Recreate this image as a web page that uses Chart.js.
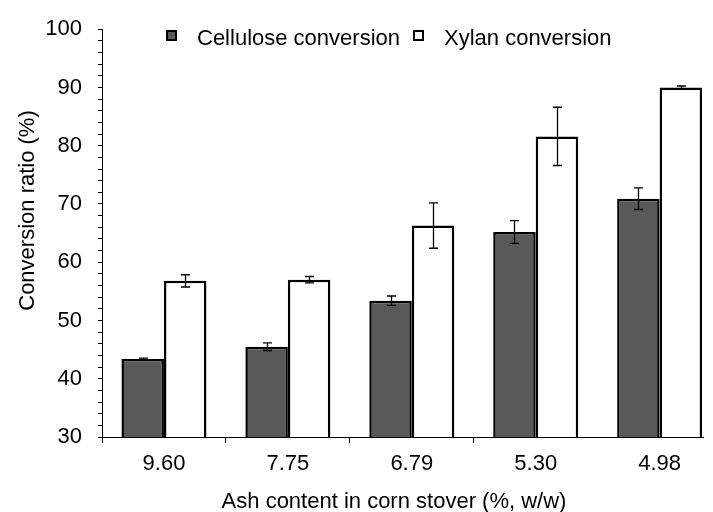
<!DOCTYPE html>
<html lang="en">
<head>
  <meta charset="UTF-8" />
  <title>Conversion ratio vs ash content</title>
  <script src="https://cdn.jsdelivr.net/npm/chart.js"></script>
  <style>
    body { margin: 0; background: #fff; }
    #wrap { width: 713px; height: 512px; }
  </style>
</head>
<body>
  <div id="wrap"><canvas id="chart" width="713" height="512"></canvas></div>

  <script>
    // ash content of each corn stover sample (%, w/w)
    const ashLabels = ['9.60', '7.75', '6.79', '5.30', '4.98'];
    const cellulose = [43.4, 45.5, 53.4, 65.2, 70.9];
    const celluloseErr = [0.15, 0.65, 0.8, 1.95, 1.85];
    const xylan = [56.8, 57.0, 66.3, 81.6, 90.0];
    const xylanErr = [1.05, 0.55, 3.9, 5.0, 0.25];
    const yTicks = { min: 30, max: 100, major: 10, minor: 2 };

    const FONT = 'Liberation Sans, Arial, sans-serif';
    const errs = [celluloseErr, xylanErr];

    // error bars on top of every bar
    const errorBars = {
      id: 'errorBars',
      afterDatasetsDraw(chart) {
        const ctx = chart.ctx;
        const y = chart.scales.y;
        ctx.save();
        ctx.strokeStyle = '#000';
        ctx.lineWidth = 1.3;
        chart.data.datasets.forEach((ds, d) => {
          chart.getDatasetMeta(d).data.forEach((bar, i) => {
            const v = ds.data[i].y;
            const hi = y.getPixelForValue(v + errs[d][i]);
            const lo = y.getPixelForValue(v - errs[d][i]);
            const x = Math.round(bar.x) + 0.5;
            ctx.beginPath();
            ctx.moveTo(x, hi); ctx.lineTo(x, lo);
            ctx.moveTo(x - 4.5, hi); ctx.lineTo(x + 4.5, hi);
            ctx.moveTo(x - 4.5, lo); ctx.lineTo(x + 4.5, lo);
            ctx.stroke();
          });
        });
        ctx.restore();
      }
    };

    // legend inside the plot plus the two axis titles
    const decorations = {
      id: 'decorations',
      afterDraw(chart) {
        const ctx = chart.ctx;
        ctx.save();
        ctx.font = '22px ' + FONT;
        ctx.fillStyle = '#000';
        ctx.textBaseline = 'alphabetic';

        let x = 166;
        chart.data.datasets.forEach(ds => {
          ctx.fillStyle = ds.backgroundColor;
          ctx.fillRect(x, 30, 11, 11);
          ctx.strokeStyle = '#000';
          ctx.lineWidth = 2;
          ctx.strokeRect(x + 1, 31, 9, 9);
          ctx.fillStyle = '#000';
          ctx.textAlign = 'left';
          ctx.fillText(ds.label, x + 31, 45);
          x += 31 + ctx.measureText(ds.label).width + 13;
        });

        ctx.textAlign = 'center';
        ctx.fillText('Ash content in corn stover (%, w/w)', 394, 508);

        ctx.translate(33.5, 210.5);
        ctx.rotate(-Math.PI / 2);
        ctx.fillText('Conversion ratio (%)', 0, 0);
        ctx.restore();
      }
    };

    const ctx = document.getElementById('chart').getContext('2d');
    new Chart(ctx, {
      type: 'bar',
      data: {
        datasets: [
          {
            label: 'Cellulose conversion',
            data: cellulose.map((v, i) => ({ x: i, y: v })),
            backgroundColor: '#595959',
            borderColor: '#000',
            borderWidth: 2.5
          },
          {
            label: 'Xylan conversion',
            data: xylan.map((v, i) => ({ x: i, y: v })),
            backgroundColor: '#ffffff',
            borderColor: '#000',
            borderWidth: 2.5
          }
        ]
      },
      options: {
        responsive: false,
        animation: false,
        devicePixelRatio: 1,
        categoryPercentage: 0.686,
        barPercentage: 1,
        layout: { padding: { left: 0, right: 10, top: 25, bottom: 0 } },
        plugins: { legend: { display: false }, tooltip: { enabled: false } },
        scales: {
          x: {
            type: 'linear',
            min: -0.5,
            max: 4.35,
            offset: false,
            weight: 0,
            afterBuildTicks: s => { s.ticks = ashLabels.slice(0, 4).map((c, i) => ({ value: i - 0.5 })); },
            afterFit: s => { s.height = 6; },
            ticks: { display: false },
            grid: { offset: false, drawOnChartArea: false, tickLength: 6, color: '#000', lineWidth: 1 },
            border: { display: true, color: '#000', width: 1 }
          },
          x2: {
            type: 'linear',
            position: 'bottom',
            min: -0.5,
            max: 4.35,
            offset: false,
            weight: 1,
            afterBuildTicks: s => { s.ticks = ashLabels.map((c, i) => ({ value: i })); },
            afterFit: s => { s.height = 69; },
            ticks: {
              autoSkip: false,
              maxRotation: 0,
              padding: 8,
              color: '#000',
              font: { family: FONT, size: 22 },
              callback: (v, i) => ashLabels[i]
            },
            grid: { offset: false, display: false, drawTicks: false },
            border: { display: false }
          },
          y: {
            min: yTicks.min,
            max: yTicks.max,
            afterFit: s => { s.width = 102; },
            ticks: {
              stepSize: yTicks.minor,
              autoSkip: false,
              padding: 16,
              color: '#000',
              font: { family: FONT, size: 22 },
              callback: v => (v % yTicks.major === 0 ? v : '')
            },
            grid: { drawOnChartArea: false, tickLength: 4, color: '#000', lineWidth: 1 },
            border: { display: true, color: '#000', width: 1 }
          }
        }
      },
      plugins: [errorBars, decorations]
    });
  </script>
</body>
</html>
